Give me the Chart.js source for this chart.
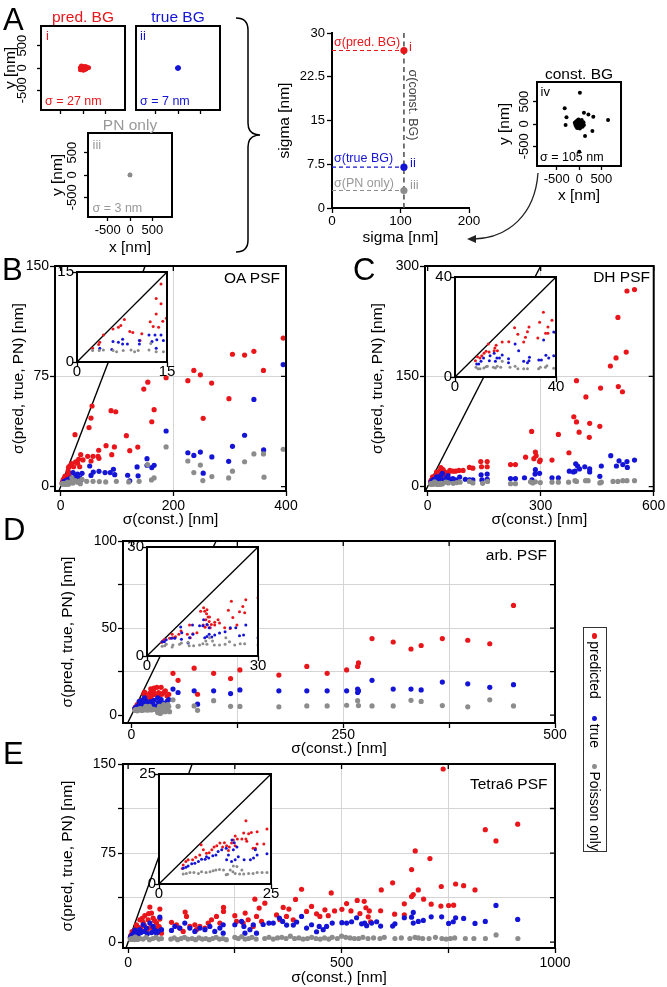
<!DOCTYPE html>
<html>
<head>
<meta charset="utf-8">
<script src="https://cdn.jsdelivr.net/npm/chart.js@4.4.1/dist/chart.umd.min.js"></script>
<style>
body { margin: 0; background: #fff; }
#strona { position: relative; width: 667px; height: 987px; overflow: hidden; font-family: 'Liberation Sans', Arial, sans-serif; }
#strona canvas { position: absolute; left: 0; top: 0; }
.napis { position: absolute; line-height: 1; white-space: nowrap; }
</style>
</head>
<body>
<div id="strona"></div>
<script>
// --- dane: panel A ---
const A_I_PRZEWIDYWANE = [[-65,5],[-50,-25],[-45,30],[-30,-5],[-20,40],[-15,-45],[0,10],[5,-30],[15,35],[25,-10],[35,20],[45,-40],[55,5],[60,40],[75,-20],[85,15],[100,0],[115,10],[130,5],[-35,50],[10,-55],[-60,-45]];
const A_II_PRAWDZIWE = [[-8,4],[6,-7],[0,0],[9,8],[-4,-9],[12,-2],[-11,-3]];
const A_III_POISSON = [[-3,2],[3,-2],[0,0],[2,4],[-2,-3]];
const A_IV_STALE = [[-95,30],[-80,-20],[-70,50],[-60,-60],[-50,10],[-40,80],[-30,-40],[-20,20],[-10,-80],[0,0],[0,60],[10,-20],[20,40],[30,-70],[40,10],[50,70],[60,-30],[70,30],[80,-60],[90,0],[100,40],[-40,-90],[20,-100],[-10,100],[60,90],[110,-20],
  [20,700],[-320,350],[110,250],[210,210],[320,165],[650,90],[-280,150],[-300,-20],[135,-270],[300,-155],[5,-620]];
const A_TIKI_XY = [-500, 0, 500];
const A_SIGMA_STALE = 105;
const A_SIGMY = [27, 7, 3];           // pred. BG, true BG, PN only
const A_TIKI_SIGMA_Y = [0, 7.5, 15, 22.5, 30];
const A_TIKI_SIGMA_X = [0, 100, 200];

// --- dane: panel B (OA PSF) ---
const B_PRZEWIDYWANE = [[14,13],[13.2,10.6],[14,9.7],[13.2,8],[14.9,7.3],[14.3,6.8],[12.2,6.7],[13.6,5.8],[12.7,5.9],[7.9,7.1],[7.3,6.1],[6.9,5.8],[8.8,5.1],[9.3,4.9],[6,5.5],[10.8,4.7],[4.4,4.5],[3.8,3.3],[3.6,2.9],[2.6,2.3],[10.5,3.6],
  [16,14],[19.6,15.6],[23,13.5],[26.7,16.8],[30,15.9],[32,18.6],[33.8,13.5],[35.6,21.7],[39.7,18.1],[25.5,35.3],
  [48,20.6],[54,17.4],[57.5,20.6],[66.4,20.6],[68,19.2],[67.6,24.7],[50.4,40.1],[53.9,46.6],[55.7,54.8],[80.6,27.8],[90.7,21.7],[95.4,27],[89.5,51.6],[97.8,50.9],[116.7,34.6],[122.7,24.4],[136.9,26.9],
  [147.6,66.3],[154.7,71],[161.8,44.1],[165.9,52.3],[187.2,74],[225.8,72],[236.4,79],[248,76],[253,46.4],[268,70.4],[298.7,59.8],[305,90],[326.5,89.4],[343,92],[360,79],[395,101]];
const B_PRAWDZIWE = [[14,4.5],[13,4.5],[12,4.5],[13.3,3.7],[12.5,3.4],[14.4,3.6],[7.6,3.8],[7.6,3],[6.9,3.3],[6,3.4],[8.4,3],[10.4,3.6],[10.4,3],[5.8,2.1],[3.8,2.3],[13.2,2.3],
  [18,6],[22,9.5],[26,7],[28,5],[30,8.5],[34,6],[36,4.5],[38,9],
  [51.6,14],[53.9,7.6],[58,9.9],[68.1,10.4],[78.8,9.5],[88,9.5],[93.7,11.8],[96,8.1],[118.9,7.7],[122.7,3.9],[135.7,13.4],[137.5,7.3],[153.3,19],[153.3,14.5],[161.8,12.9],[165.9,14.5],[187.2,37.8],
  [225.8,23],[236.4,21.2],[248,23.5],[253,9.1],[268.4,20.2],[298.2,17.2],[305,27.4],[326.5,34.9],[343,59.3],[360.3,24.9],[395,83]];
const B_POISSON = [[14.4,1.7],[12.3,3.1],[12,2],[10.2,1.9],[9,2],[7.7,1.9],[6.6,1.7],[6,1.9],[4.4,2],[3.7,1.9],[2.6,1.9],[9.6,1.7],[13.2,1.7],
  [18,3],[20,6],[21.9,2.4],[26,4],[30,3],[32.6,3.8],[35,2],[38,5],
  [46.2,3.6],[57.5,3.6],[68.7,3.4],[80,3.2],[98.9,3.6],[120.9,3.2],[139.3,3.6],[154.3,15],[161.2,4.5],[165.9,5.9],[187.2,27],
  [225.8,17.4],[236.4,9.5],[248,14.6],[252.4,4.1],[268.4,6.8],[298.2,5.9],[305,10.5],[326.5,16.9],[343,22.2],[360,22.2],[361,6.4],[395,25.4]];

// --- dane: panel C (DH PSF) ---
const C_PRZEWIDYWANE = [[35,25.9],[38.4,22.7],[33.5,21.9],[36.8,20],[35.9,17.5],[36.8,17.5],[39.7,17.9],[32.8,15.6],[29.3,20],[28.7,18.1],[27.9,15.9],[27.2,14],[24.9,17.1],[23.6,19.7],[21.3,14.1],[18.7,14],[16.3,12.7],[15.8,11.6],[16.8,10.5],[15.5,10.5],[13.2,13.2],[12.3,10.3],[13.5,10],[11.5,9.5],[10.6,8.5],[9.9,7.6],[8.9,8.1],[8.1,6.5],
  [41,23],[45,20],[46,15],[50,18],[55,19],[59,22],[67,21],[74,21],[83,22],[94,22],[111,26],[120,25],[141,34],[143,27],[158,34],[158,27],[220,30],[233,30],[260,40],[276,75],[282,38],[286,47],[288,42],[297,34],[299,36],[330,36],
  [347,71],[375,46],[388,95],[395,88],[395,144],[402,74],[420,122],[429,67],[430,86],[457,82],[459,134],[485,164],[500,175],[505,230],[506,136],[517,129],[527,183],[529,266],[549,268]];
const C_PRAWDZIWE = [[39.1,18],[35.1,14.8],[39.1,8.5],[36,8.7],[37.1,7.6],[34.2,6.8],[33.2,6.8],[29.5,7.9],[29.3,6.5],[27.2,6.3],[28.7,5.7],[23.8,13.2],[25.2,10.5],[21.2,7.3],[21.2,5.7],[18.7,8.8],[17.6,7.6],[16.6,7.6],[15.5,9.5],[16,6.3],[13.9,8.5],[13.6,6.5],[11.3,7.6],[10.3,6.3],[9.4,5.2],[8.6,5.2],
  [45,9],[50,12],[54,15],[60,10],[67,11],[75,9],[85,13],[100,10],[111,9],[120,9],[142,16],[144,9],[158,17],[158,10],[220,11],[233,11],[257,12],[277,9],[285,17],[286,23],[297,18],[330,12],[347,12],
  [376,21],[387,20],[391,21],[393,31],[398,28],[403,24],[417,27],[430,24],[430,20],[457,14],[461,28],[486,42],[501,28],[508,35],[518,30],[529,34],[530,26],[549,36]];
const C_POISSON = [[39.1,3.5],[36.4,4.5],[35.8,3.9],[33.1,3.3],[33.8,3.9],[28.7,3.3],[27.2,3.3],[24.9,3.3],[23.8,4.3],[21.8,3.9],[18.7,6.3],[18.1,3.9],[16.7,4.3],[16,3.6],[15.2,3.9],[12.8,4.3],[12.3,4.1],[11.4,3.6],[9.9,3.3],[9.1,3.3],[8.3,3.9],
  [48,6],[55,5],[68,4.5],[77,5.5],[86,6],[111,7],[120,5],[146,4.5],[159,7],[220,4],[233,4],[273,6.5],[279,5],[286,6.5],[299,5.5],[330,6],[347,6],
  [374,6],[391,8],[395,7],[419,8],[426,8],[457,5],[461,6],[492,7],[505,7],[518,8],[529,8],[549,8]];

// --- dane: panel D (arb. PSF) ---
const D_PRZEWIDYWANE = [[26.7,15.5],[22.8,15.1],[25.9,13.6],[25,12.2],[26.4,11.9],[22,12.6],[23.2,10.6],[24.3,8.5],[22.5,7.6],[21,7.8],[19.6,9.1],[19.2,10],[18.3,9.3],[16.9,10.7],[17.4,8.7],[15.3,13.3],[16.2,12.7],[15.6,12.3],[16.1,11.6],[16.5,10.7],[15.9,10],[16.8,9.5],[16.3,8.5],[15.2,8.5],[15.7,7.9],[18.3,8.5],[17.1,7.8],[13.5,6.4],[11.5,8.5],[12.4,6.1],[10.9,6],[11.7,5],[9.2,6.9],[8.6,6],[7.7,5.3],[7,5],[6.8,6],[6.1,4.9],[4.3,4.1],[4,3.8],[4.8,4.6],[14.5,12.3],
  [31,11],[32,13],[33,10],[35,16],[36,12],[38,13],[40,14],[42,11],[44,12],[30,16],[49,24],[55,20],[74,27],[78,12],[97,24],[117,21],[128,26],[174,23],[207,28],[231,24],[254,26],[267,28],[268,30],
  [284,44],[309,42],[330,38],[342,40],[367,44],[397,43],[423,41],[451,63]];
const D_PRAWDZIWE = [[26.7,8.5],[26.1,5.8],[25,5.6],[24,7.8],[22.5,7.8],[21.1,6.7],[19.6,6.3],[18.3,5.8],[17.5,5.2],[16.8,6],[16.2,5.4],[15.6,5],[16.8,7.8],[16.2,8.7],[15.3,10],[15.1,8.3],[14.2,8.3],[12.3,8.5],[12.4,6],[11.5,5],[11.1,3.6],[9.1,8],[9.4,6.4],[9.3,4.6],[7.5,4.9],[6.6,4.9],[5.2,4.5],[4.7,3.9],[4.1,3.9],
  [30,5],[31,10],[32,7.4],[33,6],[35,9],[36,7],[38,6.6],[40,6],[42,8],[44,9],[49,15],[55,13],[74,14],[78,6.3],[97,14],[117,12.4],[128,14.5],[174,14],[207,14],[231,14],[254,14],[267,13],[267,15],[268,14],
  [284,20],[309,15],[330,15],[342,14.5],[367,19],[397,18],[423,16],[451,17.5]];
const D_POISSON = [[26.4,3.4],[25.2,3.4],[23.7,3],[22.3,3.9],[21.3,5],[21.1,3.2],[19.6,3],[18.2,3],[17.7,4.1],[16.9,5],[16.2,3.2],[15.9,4.1],[15.1,3.4],[14.2,3],[12.6,2.8],[11.4,2.8],[11.1,3.8],[9.3,3.6],[8.8,3.2],[7,3],[6.8,2.5],[4.8,2.8],[4.1,2.7],[5.2,3.2],
  [30,3],[31,1.5],[32,2.5],[33,5],[34,1],[35,4],[36,3],[37,2],[38,6],[39,4],[40,2],[42,3],[43,6],[44,5],[45,2],[49,8.8],[55,5.1],[74,5.3],[78,2.8],[97,8.3],[117,5.1],[128,5],[174,4.8],[207,5.3],[231,5.3],[254,5.7],[267,8.3],[268,5.5],
  [284,5.3],[309,5.3],[330,8.5],[342,7.9],[367,5.5],[397,4.8],[423,8.8],[451,5.3]];

// --- dane: panel E (Tetra6 PSF) ---
const E_PRZEWIDYWANE = [[19.4,14.4],[24.1,12.5],[21.9,11.9],[20.6,11.7],[20,11.4],[18.9,11.6],[19.4,10.2],[18.5,10.2],[19.6,9.7],[21.9,9.1],[21.5,8.1],[23.4,9.1],[21,8.1],[17,10.9],[17.5,10.2],[16.6,10],[16.2,9.3],[17,8.7],[15.7,8.4],[15.5,7.6],[13.6,9.3],[12.9,8.7],[12.3,8.4],[11.8,7.8],[11.2,7.1],[10.6,7],[9.9,7.8],[9.1,6.6],[8.2,6.1],[7.5,5.5],[6.5,5.5],[6,5.1],[5.4,4.3],[5.2,3.5],[9.4,8.9],[14.6,9.4],[15.1,8.7],[14.2,8.4],
  [27.4,18.8],[30,12],[33,20],[35.2,16.6],[38,14],[39.1,22.2],[44,10],[46.9,18.8],[48,24],[50.9,29.5],[52,12],[54.7,24.4],[58.6,20.2],[62,18],[66.5,16],[68,12],[72.7,13.1],[74.3,27.8],[74.3,19.4],[78.2,7.5],
  [101.6,16.6],[113.3,14.6],[121,11.8],[129,9],[133.6,25.3],[136.8,21.6],[144.6,13.2],[156.3,14.6],[160,10.4],[168,13.2],[180,11.8],[187.6,16],[195.4,18.8],[207,21.6],[214.9,16],[223.5,29.2],[223.5,25.8],
  [250,22.2],[254,17.4],[269.6,16],[274.2,24.4],[281.3,18.8],[293,13.2],[296.9,36.1],[300.8,21.6],[307,28.6],[312.5,17.4],[320.3,32.8],
  [347.7,22.9],[355.5,18.8],[363.3,29.2],[371,21.6],[376.6,27.8],[386.8,18.8],[392.2,35.9],[406.3,44.5],[418,25.8],[429.7,30],[441.4,23.8],[449.2,21.6],[461,27.2],[468.8,22.2],[475.8,41.4],[483.6,26.2],
  [500.8,27.6],[511.8,32.4],[522,26.2],[536.7,35.1],[543,24],[553,34.3],[557,28.9],[562.5,21.3],[565,26.2],[568,17.1],[591.5,26.4],[593,43.9],
  [619.6,49.9],[624.3,23.5],[647,32.2],[647,23],[664.1,61.1],[664,38.3],[668,40],[672.6,76.8],[679.8,43.9],[692.2,36.1],[707,70.3],[710,31.9],[732.7,30.3],[733.6,46.8],[738,145.8],[750.8,30.8],[762.5,31.1],[767.2,48.9],[786,47.5],[812.6,43.9],[836.7,94.7],[861.7,85.2],[912.6,99.3]];
const E_PRAWDZIWE = [[24.1,6.9],[21.5,7.8],[21.9,6.6],[21.1,5.9],[20.4,5.5],[19,5.5],[17.7,6.2],[17,5.5],[16.2,5.1],[15.1,5.5],[16.6,7.8],[16.8,9.4],[16.3,10],[15,8.1],[14,7.8],[13.2,7.4],[12.7,6.6],[12,6.4],[11.1,5.9],[10.3,5.6],[9.5,5.6],[8.8,5.1],[8,4.7],[7.3,4.6],[6.5,4.1],[6,3.8],[5.4,3.6],[10.6,6.2],[17.4,8.4],[15.5,6.6],
  [27.4,10.4],[30,8],[35.2,14.6],[38,9],[43,11.8],[45,7],[50.9,16],[55,8],[58.6,13.2],[62,10],[66.5,7.5],[70,9],[74.3,21],[78.2,10.4],
  [101.6,9.8],[109.4,13.2],[121,11.8],[132.8,16],[144.6,11.8],[156.3,9],[168,11.8],[180,10.4],[191.4,13.2],[203,9],[214.9,11.8],[222.7,14.6],[222.7,7.5],
  [250,14.6],[265.7,17.4],[271.2,13.2],[273.6,7.5],[285.4,10.4],[293.2,14.6],[300.8,7.5],[316.4,14.8],[329.8,16],[340,16],
  [354.3,20.2],[362,17.4],[371.3,14.3],[387,14.3],[394.8,16.9],[406.3,21.6],[418,11.8],[429.7,14.6],[441.4,8.7],[447.7,13.2],[457,10.4],[464.9,13.2],[478.2,16],
  [500.8,16.3],[511.8,16],[523.5,17.1],[535.2,20.5],[547,15.4],[554,16],[558.7,13.8],[570.4,16],[582.2,17.1],[591.5,13.5],[619.6,13.5],[625,15.4],
  [647,20.5],[664,21],[668,25],[668,16],[679.8,17.4],[691.5,18.2],[710,21.3],[734.5,21.3],[750.8,15.7],[761.7,17.1],[767.2,20.5],[786,19.9],[812.6,15.7],[836.7,17.4],[861.7,30.9],[912.6,19.1]];
const E_POISSON = [[24.1,2.6],[23,2.6],[21.9,2.6],[21,2.4],[20,2.4],[18.9,2.3],[18,2.3],[17,2.4],[16.5,2.8],[15.9,3.2],[15.3,2.2],[15,2.1],[14.4,3.2],[13.5,3.3],[12.7,3.2],[12.1,3],[11.4,2.8],[10.5,2.6],[9.5,2.8],[8.8,2.4],[7.8,2.6],[6.9,2.6],[6.1,2.4],[5.4,2.3],[17.4,4],[16.6,4.1],[18.5,3.2],
  [28,3],[35,2.5],[42,4],[50,2],[58,3],[65,4],[72,2.5],[78,3],[100,2.5],[108,3.5],[116,2],[124,3],[132,4],[140,2.5],[150,3],[158,2],[166,3.5],[174,2.5],[182,3],[190,2],[198,3],[206,4],[214,2.5],[222,3],[230,2],
  [250,4],[258,3],[266,4.5],[274,2.5],[282,3],[290,4],[300,2.5],[320,3],[330,4],[340,2.5],[350,3.5],[360,4],[370,3],[380,5],[390,3],[400,3.5],[410,2.5],[420,3],[430,4],[440,3],[450,2.5],[460,3.5],[470,2.5],[478,4],
  [490,3],[500,5],[510,4],[520,3.5],[530,3],[540,3],[550,4],[562,3],[575,3.5],[590,3],[600,4],[625,3],[640,3.5],[660,3],[672,4],[680,3.5],[690,3],[705,3],[720,4],[735,3],[745,2.5],[755,3],[765,3.5],[790,3],[810,3],[837,3],[862,6],[913,3]];

// --- osie paneli B-E ---
const B_TIKI_X = [0, 200, 400], B_TIKI_Y = [0, 75, 150], B_LUPA = 15;
const C_TIKI_X = [0, 300, 600], C_TIKI_Y = [0, 150, 300], C_LUPA = 40;
const D_TIKI_X = [0, 125, 250, 375, 500], D_ETYKIETY_X = [0, 250, 500];
const D_TIKI_Y = [0, 25, 50, 75, 100], D_ETYKIETY_Y = [0, 50, 100], D_LUPA = 30;
const E_TIKI_X = [0, 250, 500, 750, 1000], E_ETYKIETY_X = [0, 500, 1000];
const E_TIKI_Y = [0, 37.5, 75, 112.5, 150], E_ETYKIETY_Y = [0, 75, 150], E_LUPA = 25;
const NAZWY_SERII = ['predicted', 'true', 'Poisson only'];

const CZERWONY = '#e8161b', NIEBIESKI = '#1414d6', SZARY = '#8c8c8c';
const KOLORY_SERII = [CZERWONY, NIEBIESKI, SZARY];

Chart.defaults.font.family = "'Liberation Sans', Arial, sans-serif";
Chart.defaults.color = '#000';
Chart.defaults.animation = false;
Chart.defaults.plugins.legend.display = false;
Chart.defaults.plugins.tooltip.enabled = false;

const strona = document.getElementById('strona');

// ramka, białe tło wstawki, lustrzane tiki i pionowe etykiety osi y
const ramkaWtyczka = {
    id: 'ramka',
    beforeDraw(ch, a, o) {
        if (!o.tlo) return;
        const { left, top, right, bottom } = ch.chartArea;
        ch.ctx.save();
        ch.ctx.fillStyle = '#fff';
        ch.ctx.fillRect(left, top, right - left, bottom - top);
        ch.ctx.restore();
    },
    afterDraw(ch, a, o) {
        const ctx = ch.ctx;
        const { left, top, right, bottom } = ch.chartArea;
        ctx.save();
        ctx.strokeStyle = '#000';
        if (o.lustro) {
            ctx.lineWidth = 1.3;
            ctx.beginPath();
            ch.scales.x.ticks.forEach(t => {
                const p = ch.scales.x.getPixelForValue(t.value);
                ctx.moveTo(p, top); ctx.lineTo(p, top + o.tik);
            });
            ch.scales.y.ticks.forEach(t => {
                const p = ch.scales.y.getPixelForValue(t.value);
                ctx.moveTo(right, p); ctx.lineTo(right - o.tik, p);
            });
            ctx.stroke();
        }
        if (o.pelna) {
            ctx.lineWidth = 2;
            ctx.strokeRect(left, top, right - left, bottom - top);
        }
        if (o.pionowe) {
            ctx.fillStyle = '#000';
            ctx.font = o.pionowe.rozmiar + "px 'Liberation Sans', Arial, sans-serif";
            ctx.textAlign = 'center';
            ctx.textBaseline = 'middle';
            o.pionowe.wartosci.forEach(v => {
                ctx.save();
                ctx.translate(o.pionowe.x, ch.scales.y.getPixelForValue(v));
                ctx.rotate(-Math.PI / 2);
                ctx.fillText(String(v), 0, 0);
                ctx.restore();
            });
        }
        ctx.restore();
    }
};
Chart.register(ramkaWtyczka);

function punkty(pary) {
    return pary.map(([x, y]) => ({ x, y }));
}

function seria(pary, kolor, r) {
    return { type: 'scatter', data: punkty(pary), backgroundColor: kolor, borderWidth: 0, pointRadius: r, pointHoverRadius: r, clip: 0 };
}

function linia(pary, kolor, szer, kreski) {
    return { type: 'line', data: punkty(pary), borderColor: kolor, borderWidth: szer, borderDash: kreski || [], pointRadius: 0, fill: false, tension: 0, clip: 0 };
}

function wykres(k) {
    const [l, t, r, b] = k.obszar;
    const tik = k.tik ?? 5;
    const lhTyt = 15.5 * 1.2;
    const szerY = k.y.tytul ? l - (k.y.tytul.srodek - lhTyt / 2) : 40;
    const wysX = k.x.tytul ? k.x.tytul.srodek + lhTyt / 2 - b : 30;
    const rozX = k.x.rozmiar || 14, rozY = k.y.rozmiar || 14;
    const padX = k.x.srodekEtykiet !== undefined ? k.x.srodekEtykiet - b - tik - rozX * 0.6 : 2;
    const padY = k.y.krawedzEtykiet !== undefined ? l - tik - k.y.krawedzEtykiet : 2;

    const os = (o, poz, pad, roz, rozmiar) => ({
        type: 'linear', position: poz, min: o.min, max: o.max, bounds: 'data',
        afterBuildTicks: s => { s.ticks = o.tiki.map(v => ({ value: v })); },
        afterFit: s => { if (poz === 'left') s.width = rozmiar; else s.height = rozmiar; },
        ticks: {
            display: !!o.etykiety, autoSkip: false, maxRotation: 0, padding: pad,
            font: { size: roz }, color: '#000',
            callback: v => (o.etykiety && o.etykiety.includes(v)) ? String(v) : ''
        },
        grid: {
            display: !o.bezTikow, drawOnChartArea: true, tickLength: tik, tickWidth: 1.3, tickColor: '#000', lineWidth: 1,
            color: c => (o.siatka && c.tick && o.siatka.includes(c.tick.value)) ? '#d4d4d4' : 'rgba(0,0,0,0)'
        },
        border: { display: !!k.osie, color: '#000', width: 2 },
        title: { display: !!o.tytul, text: o.tytul ? o.tytul.tekst : '', font: { size: 15.5 }, color: '#000', padding: 0 }
    });

    const c = document.createElement('canvas');
    c.width = 667; c.height = 987;
    strona.appendChild(c);
    return new Chart(c.getContext('2d'), {
        type: 'scatter',
        data: { datasets: k.zbiory },
        options: {
            responsive: false,
            devicePixelRatio: 1,
            events: [],
            layout: { padding: { left: l - szerY, top: t, right: 667 - r, bottom: 987 - b - wysX } },
            scales: {
                x: os(k.x, 'bottom', padX, rozX, wysX),
                y: os(k.y, 'left', padY, rozY, szerY)
            },
            plugins: {
                ramka: { pelna: !k.osie, tlo: !!k.tlo, lustro: !!k.lustro, tik: tik, pionowe: k.y.pionowe || null }
            }
        }
    });
}

function napis(tekst, x, y, rozmiar, kolor, wyr, obrot) {
    const d = document.createElement('div');
    d.className = 'napis';
    d.textContent = tekst;
    d.style.fontSize = rozmiar + 'px';
    d.style.color = kolor || '#000';
    d.style.top = (y - rozmiar / 2) + 'px';
    if (obrot) {
        d.style.left = x + 'px';
        d.style.top = y + 'px';
        d.style.transform = 'translate(-50%, -50%) rotate(' + obrot + 'deg)';
    } else if (wyr === 'prawo') {
        d.style.right = (667 - x) + 'px';
    } else {
        d.style.left = x + 'px';
        if (wyr === 'srodek') d.style.transform = 'translateX(-50%)';
    }
    strona.appendChild(d);
}

// --- panel A: małe mapy lokalizacji ---
const ZAKRES_XY = 940;
function mapka(obszar, pary, kolor, r, opcje) {
    wykres({
        obszar: obszar, tik: 4,
        x: { min: -ZAKRES_XY, max: ZAKRES_XY, tiki: A_TIKI_XY, etykiety: opcje.etykietyX ? A_TIKI_XY : null, rozmiar: 13,
             srodekEtykiet: opcje.etykietyX, tytul: opcje.tytulX ? { tekst: 'x [nm]', srodek: opcje.tytulX } : null },
        y: { min: -ZAKRES_XY, max: ZAKRES_XY, tiki: A_TIKI_XY, bezTikow: !opcje.osY,
             pionowe: opcje.osY ? { x: opcje.osY, rozmiar: 13, wartosci: A_TIKI_XY } : null,
             tytul: opcje.tytulY ? { tekst: 'y [nm]', srodek: opcje.tytulY } : null },
        zbiory: [seria(pary, kolor, r)]
    });
}
mapka([41, 26, 125, 110], A_I_PRZEWIDYWANE, CZERWONY, 2.3, { osY: 22.5, tytulY: 10.5 });
mapka([136, 26, 220, 110], A_II_PRAWDZIWE, NIEBIESKI, 2.3, {});
mapka([88, 133, 172, 217], A_III_POISSON, SZARY, 2.2, { osY: 72.5, tytulY: 58, etykietyX: 230, tytulX: 248 });
mapka([537, 82, 621, 166], A_IV_STALE, '#000', 2, { osY: 524.5, tytulY: 505, etykietyX: 179, tytulX: 195.5 });

// --- panel A: wykres sigma ---
wykres({
    obszar: [332, 33, 469, 208], osie: true, tik: 5,
    x: { min: 0, max: 200, tiki: A_TIKI_SIGMA_X, etykiety: A_TIKI_SIGMA_X, rozmiar: 13.5, srodekEtykiet: 221,
         tytul: { tekst: 'sigma [nm]', srodek: 237.5 } },
    y: { min: 0, max: 30, tiki: A_TIKI_SIGMA_Y, etykiety: A_TIKI_SIGMA_Y, rozmiar: 13, krawedzEtykiet: 325,
         tytul: { tekst: 'sigma [nm]', srodek: 285 } },
    zbiory: [
        seria([[A_SIGMA_STALE, A_SIGMY[0]]], CZERWONY, 3.6),
        seria([[A_SIGMA_STALE, A_SIGMY[1]]], NIEBIESKI, 3.6),
        seria([[A_SIGMA_STALE, A_SIGMY[2]]], SZARY, 3.6),
        linia([[0, A_SIGMY[0]], [A_SIGMA_STALE, A_SIGMY[0]]], CZERWONY, 1.2, [4, 3]),
        linia([[0, A_SIGMY[1]], [A_SIGMA_STALE, A_SIGMY[1]]], NIEBIESKI, 1.2, [4, 3]),
        linia([[0, A_SIGMY[2]], [A_SIGMA_STALE, A_SIGMY[2]]], SZARY, 1.2, [4, 3]),
        linia([[A_SIGMA_STALE, 0], [A_SIGMA_STALE, 30]], '#555', 1.6, [5, 3.5])
    ]
});

// --- panele B-E ---
function panel(k) {
    const przekatna = [[k.x.min, k.x.min], [k.y.max, k.y.max]];
    wykres({
        obszar: k.obszar, lustro: true, tik: 5,
        x: { min: k.x.min, max: k.x.max, tiki: k.x.tiki, etykiety: k.x.etykiety, siatka: k.x.siatka,
             srodekEtykiet: k.x.srodek, tytul: { tekst: 'σ(const.) [nm]', srodek: k.x.tytul } },
        y: { min: k.y.min, max: k.y.max, tiki: k.y.tiki, etykiety: k.y.etykiety, siatka: k.y.siatka,
             krawedzEtykiet: k.y.krawedz, tytul: { tekst: 'σ(pred, true, PN) [nm]', srodek: k.y.tytul } },
        zbiory: [
            seria(k.serie[2], SZARY, 2.6),
            seria(k.serie[1], NIEBIESKI, 2.6),
            seria(k.serie[0], CZERWONY, 2.6),
            linia(przekatna, '#000', 1.4)
        ]
    });
    const w = k.lupa;
    wykres({
        obszar: w.obszar, tlo: true, tik: 5,
        x: { min: 0, max: w.max, tiki: [0, w.max], etykiety: [0, w.max], rozmiar: 15, srodekEtykiet: w.obszar[3] + 10 },
        y: { min: 0, max: w.max, tiki: [0, w.max], etykiety: [0, w.max], rozmiar: 15, krawedzEtykiet: w.obszar[0] - 3 },
        zbiory: [
            seria(k.serie[2], SZARY, 1.5),
            seria(k.serie[1], NIEBIESKI, 1.5),
            seria(k.serie[0], CZERWONY, 1.5),
            linia([[0, 0], [w.max, w.max]], '#000', 1.3)
        ]
    });
}

panel({
    obszar: [55, 266, 286, 491],
    x: { min: -10, max: 400, tiki: B_TIKI_X, etykiety: B_TIKI_X, siatka: [200], srodek: 506, tytul: 520 },
    y: { min: -3, max: 150, tiki: B_TIKI_Y, etykiety: B_TIKI_Y, siatka: [75], krawedz: 49, tytul: 19 },
    serie: [B_PRZEWIDYWANE, B_PRAWDZIWE, B_POISSON],
    lupa: { obszar: [77, 272, 167, 362], max: B_LUPA }
});
panel({
    obszar: [425, 266, 655, 491],
    x: { min: -7, max: 600, tiki: C_TIKI_X, etykiety: C_TIKI_X, siatka: [300], srodek: 506, tytul: 520 },
    y: { min: -6, max: 300, tiki: C_TIKI_Y, etykiety: C_TIKI_Y, siatka: [150], krawedz: 419, tytul: 378 },
    serie: [C_PRZEWIDYWANE, C_PRAWDZIWE, C_POISSON],
    lupa: { obszar: [455, 277, 556, 377], max: C_LUPA }
});
panel({
    obszar: [123, 541, 555, 723],
    x: { min: -10, max: 500, tiki: D_TIKI_X, etykiety: D_ETYKIETY_X, siatka: [125, 250, 375], srodek: 735, tytul: 749 },
    y: { min: -4.5, max: 100, tiki: D_TIKI_Y, etykiety: D_ETYKIETY_Y, siatka: [25, 50, 75], krawedz: 117, tytul: 67.5 },
    serie: [D_PRZEWIDYWANE, D_PRAWDZIWE, D_POISSON],
    lupa: { obszar: [147, 547, 258, 656], max: D_LUPA }
});
panel({
    obszar: [123, 764, 555, 948],
    x: { min: -12, max: 1000, tiki: E_TIKI_X, etykiety: E_ETYKIETY_X, siatka: [250, 500, 750], srodek: 963, tytul: 977.5 },
    y: { min: -5, max: 150, tiki: E_TIKI_Y, etykiety: E_ETYKIETY_Y, siatka: [37.5, 75, 112.5], krawedz: 116, tytul: 68 },
    serie: [E_PRZEWIDYWANE, E_PRAWDZIWE, E_POISSON],
    lupa: { obszar: [159, 774, 271, 884], max: E_LUPA }
});

// --- klamra i strzałka ---
const svg = document.createElementNS('http://www.w3.org/2000/svg', 'svg');
svg.setAttribute('width', 667); svg.setAttribute('height', 987);
svg.style.position = 'absolute'; svg.style.left = '0'; svg.style.top = '0';
svg.innerHTML =
    '<path d="M236,18 Q248,18 248,30 L248,123 Q248,135 260,135 Q248,135 248,147 L248,240 Q248,252 236,252" fill="none" stroke="#000" stroke-width="1.5"/>' +
    '<path d="M538,173 C535,215 508,238 474,239" fill="none" stroke="#222" stroke-width="1.3"/>' +
    '<path d="M467,239 L476,235 L476,243 Z" fill="#222"/>';
strona.appendChild(svg);

// --- napisy ---
napis('A', 3, 19, 31);
napis('B', 2, 269, 31);
napis('C', 353, 269, 31);
napis('D', 3, 529, 31);
napis('E', 3, 753.5, 31);

napis('pred. BG', 83, 17, 15.5, CZERWONY, 'srodek');
napis('true BG', 178, 17, 15.5, NIEBIESKI, 'srodek');
napis('PN only', 130, 124.5, 15.5, '#999', 'srodek');
napis('const. BG', 579, 74, 15.5, '#000', 'srodek');
napis('i', 46, 35, 13, CZERWONY);
napis('σ = 27 nm', 45, 101, 12.5, CZERWONY);
napis('ii', 140, 35, 13, NIEBIESKI);
napis('σ = 7 nm', 140, 101, 12.5, NIEBIESKI);
napis('iii', 92.5, 144, 13, '#999');
napis('σ = 3 nm', 92.5, 208.5, 12.5, '#999');
napis('iv', 540.5, 91, 13, '#000');
napis('σ = 105 nm', 540, 157.5, 12.5, '#000');

napis('σ(pred. BG)', 334, 42.5, 12.5, CZERWONY);
napis('i', 409, 46, 13, CZERWONY);
napis('σ(true BG)', 334, 158, 12.5, NIEBIESKI);
napis('ii', 410, 162, 13, NIEBIESKI);
napis('σ(PN only)', 334, 183, 12.5, '#999');
napis('iii', 410, 184, 13, '#999');
napis('σ(const. BG)', 413, 105, 12.5, '#444', null, 90);

napis('OA PSF', 280, 277.5, 15.5, '#000', 'prawo');
napis('DH PSF', 650, 277, 15.5, '#000', 'prawo');
napis('arb. PSF', 547, 554.5, 15.5, '#000', 'prawo');
napis('Tetra6 PSF', 547.5, 784, 15.5, '#000', 'prawo');

// --- legenda (obrócona) ---
const legenda = document.createElement('div');
legenda.style.cssText = 'position:absolute;left:607px;top:627px;width:225px;height:24px;transform-origin:0 0;transform:rotate(90deg);border:1px solid #333;box-sizing:border-box;background:#fff;';
const POZYCJE_LEGENDY = [8.7, 91.3, 139];
NAZWY_SERII.forEach((nazwa, i) => {
    const kropka = document.createElement('span');
    kropka.style.cssText = 'position:absolute;top:8.5px;width:5.5px;height:5.5px;border-radius:50%;left:' + (POZYCJE_LEGENDY[i] - 3.5) + 'px;background:' + KOLORY_SERII[i] + ';';
    legenda.appendChild(kropka);
    const t = document.createElement('span');
    t.className = 'napis';
    t.style.cssText += 'top:4px;font-size:14px;left:' + (POZYCJE_LEGENDY[i] + 4.5) + 'px;';
    t.textContent = nazwa;
    legenda.appendChild(t);
});
strona.appendChild(legenda);
</script>
</body>
</html>
